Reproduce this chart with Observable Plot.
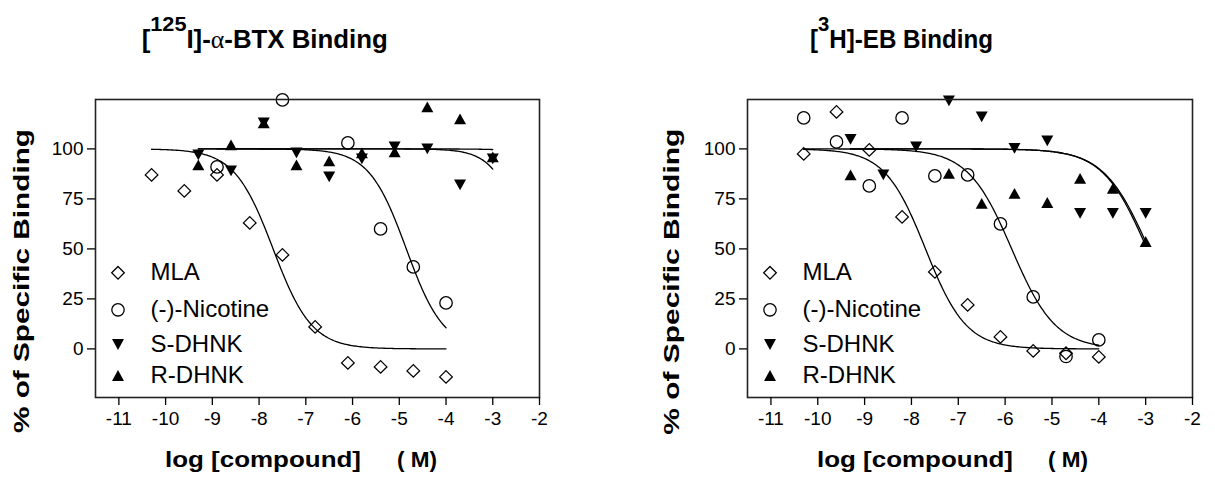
<!DOCTYPE html>
<html>
<head>
<meta charset="utf-8">
<script src="https://cdn.jsdelivr.net/npm/d3@7"></script>
<script src="https://cdn.jsdelivr.net/npm/@observablehq/plot@0.6"></script>
<style>
  html, body { margin: 0; padding: 0; background: #fff; }
  #wrap { position: relative; width: 1215px; height: 479px; overflow: hidden; background: #fff;
          font-family: "Liberation Sans", Arial, sans-serif; }
  #wrap svg.panel { position: absolute; top: 0; }
  #overlay { position: absolute; left: 0; top: 0; pointer-events: none; }
</style>
</head>
<body>
<div id="wrap"></div>
<script>
// ---------------- data ----------------
const compounds = ["MLA", "(-)-Nicotine", "S-DHNK", "R-DHNK"];
const xTicks = [-11, -10, -9, -8, -7, -6, -5, -4, -3, -2];
const yTicks = [0, 25, 50, 75, 100];
const xLabelMain = "log [compound]";
const xLabelUnit = "( M)";
const yLabel = "% of Specific Binding";

// Panel 1: [125I]-alpha-BTX binding
const btxMLA_x = [-10.3, -9.6, -8.9, -8.2, -7.5, -6.8, -6.1, -5.4, -4.7, -4.0];
const btxMLA_y = [87, 79, 87, 63, 47, 11, -7, -9, -11, -14];
const btxNic_x = [-8.9, -7.5, -6.1, -5.4, -4.7, -4.0];
const btxNic_y = [91, 124.5, 103, 60, 41, 23];
const btxS_x = [-9.3, -8.6, -7.9, -7.2, -6.5, -5.8, -5.1, -4.4, -3.7, -3.0];
const btxS_y = [97, 89, 113, 98, 86, 95, 101, 100, 82, 95];
const btxR_x = [-9.3, -8.6, -7.9, -7.2, -6.5, -5.8, -5.1, -4.4, -3.7, -3.0];
const btxR_y = [92, 102, 113, 92, 94, 98, 98.5, 121, 115, 96];
// fitted one-site curves (MLA, Nicotine, S-DHNK, R-DHNK)
const btxLogIC50 = [-7.7, -4.85, -2.27, -0.5];
const btxHill = [1.05, 1.09, 1.3, 1.0];
const btxFitFrom = [-10.3, -8.9, -9.3, -9.3];
const btxFitTo = [-4.0, -4.0, -3.0, -3.0];

// Panel 2: [3H]-EB binding
const ebMLA_x = [-10.3, -9.6, -8.9, -8.2, -7.5, -6.8, -6.1, -5.4, -4.7, -4.0];
const ebMLA_y = [97.5, 118.5, 99.5, 66, 38.5, 22, 6, -1, -2.2, -4];
const ebNic_x = [-10.3, -9.6, -8.9, -8.2, -7.5, -6.8, -6.1, -5.4, -4.7, -4.0];
const ebNic_y = [115.5, 103.5, 81.5, 115.5, 86.5, 87, 62.5, 26, -3.8, 4.5];
const ebS_x = [-9.3, -8.6, -7.9, -7.2, -6.5, -5.8, -5.1, -4.4, -3.7, -3.0];
const ebS_y = [104.8, 87, 101, 124, 116, 100.3, 104, 67.8, 67.8, 67.8];
const ebR_x = [-9.3, -7.2, -6.5, -5.8, -5.1, -4.4, -3.7, -3.0];
const ebR_y = [87, 87.8, 72.8, 77.8, 73.2, 85.3, 80.3, 53.7];
const ebLogIC50 = [-7.7, -5.86, -2.93, -2.97];
const ebHill = [1.0, 0.93, 0.9, 0.92];
const ebFitFrom = [-10.3, -10.3, -9.3, -9.3];
const ebFitTo = [-4.0, -4.0, -3.0, -3.0];

// ---------------- helpers ----------------
const H = 479;
const xDomain = [-11.5, -2];
const yDomain = [-24.3, 124.7];

// four-parameter logistic fit (top 100, bottom 0) evaluated along the fitted range
function fitCurve(logIC50, hill, from, to) {
  const n = 200, pts = [];
  for (let i = 0; i <= n; i++) {
    const x = from + (to - from) * i / n;
    pts.push({x, y: 100 / (1 + Math.pow(10, (x - logIC50) * hill))});
  }
  return pts;
}

const symDiamond = {draw(c, size) { const r = Math.sqrt(size / Math.PI);
  c.moveTo(0, -r); c.lineTo(r, 0); c.lineTo(0, r); c.lineTo(-r, 0); c.closePath(); }};
const symDown = {draw(c, size) { const r = Math.sqrt(size / Math.PI), h = r * 0.9;
  c.moveTo(-r, -h); c.lineTo(r, -h); c.lineTo(0, h); c.closePath(); }};
const symUp = {draw(c, size) { const r = Math.sqrt(size / Math.PI), h = r * 0.9;
  c.moveTo(-r, h); c.lineTo(r, h); c.lineTo(0, -h); c.closePath(); }};

const styles = [
  {symbol: symDiamond, r: 6.3, fill: "none", stroke: "#000", strokeWidth: 1.3},
  {symbol: "circle", r: 6.2, fill: "none", stroke: "#000", strokeWidth: 1.3},
  {symbol: symDown, r: 6, fill: "#000", stroke: "none"},
  {symbol: symUp, r: 6, fill: "#000", stroke: "none"}
];
const legendDy = [173.3, 210.3, 245, 276];

function panel({xs, ys, ic50, hill, from, to, width, marginLeft, marginRight}) {
  const marks = [];
  for (let i = 0; i < 4; i++) {
    marks.push(Plot.line(fitCurve(ic50[i], hill[i], from[i], to[i]),
      {x: "x", y: "y", stroke: "#000", strokeWidth: 1.3}));
  }
  for (let i = 0; i < 4; i++) {
    const data = xs[i].map((x, j) => ({x, y: ys[i][j]}));
    marks.push(Plot.dot(data, {x: "x", y: "y", ...styles[i]}));
  }
  marks.push(Plot.frame({stroke: "#222", strokeWidth: 1.6}));
  marks.push(Plot.axisX({ticks: xTicks, tickSize: 8, tickPadding: 6, tickFormat: d => String(d),
    fontSize: 19, label: null, strokeWidth: 1.3}));
  marks.push(Plot.axisY({ticks: yTicks, tickSize: 8, tickPadding: 4, tickFormat: d => String(d),
    fontSize: 19, label: null, strokeWidth: 1.3}));
  compounds.forEach((name, i) => {
    marks.push(Plot.dot([name], {frameAnchor: "top-left", dx: 22.5, dy: legendDy[i], ...styles[i]}));
    marks.push(Plot.text([name], {frameAnchor: "top-left", dx: 55, dy: legendDy[i], text: d => d,
      textAnchor: "start", lineAnchor: "middle", fontSize: 24, fill: "#000"}));
  });
  const svg = Plot.plot({
    width, height: H, marginLeft, marginRight, marginTop: 99, marginBottom: H - 397,
    x: {domain: xDomain}, y: {domain: yDomain},
    style: {fontFamily: "'Liberation Sans', Arial, sans-serif", fontSize: "19px", color: "#000",
            background: "transparent", overflow: "visible"},
    marks
  });
  svg.classList.add("panel");
  return svg;
}

const wrap = document.getElementById("wrap");
const left = panel({
  xs: [btxMLA_x, btxNic_x, btxS_x, btxR_x], ys: [btxMLA_y, btxNic_y, btxS_y, btxR_y],
  ic50: btxLogIC50, hill: btxHill, from: btxFitFrom, to: btxFitTo,
  width: 607, marginLeft: 95, marginRight: 68
});
left.style.left = "0px";
const right = panel({
  xs: [ebMLA_x, ebNic_x, ebS_x, ebR_x], ys: [ebMLA_y, ebNic_y, ebS_y, ebR_y],
  ic50: ebLogIC50, hill: ebHill, from: ebFitFrom, to: ebFitTo,
  width: 608, marginLeft: 140, marginRight: 23
});
right.style.left = "607px";
wrap.appendChild(left);
wrap.appendChild(right);

// ---------------- titles & axis labels ----------------
const ov = document.createElementNS("http://www.w3.org/2000/svg", "svg");
ov.setAttribute("id", "overlay");
ov.setAttribute("width", 1215);
ov.setAttribute("height", 479);
ov.setAttribute("font-family", "'Liberation Sans', Arial, sans-serif");
ov.innerHTML = `
  <text x="141.7" y="48" font-size="25" font-weight="bold" textLength="246" lengthAdjust="spacingAndGlyphs">[<tspan font-size="21" dy="-17">125</tspan><tspan dy="17">I]-</tspan><tspan font-family="'Liberation Serif', serif" font-weight="normal">&#945;</tspan>-BTX Binding</text>
  <text x="810" y="48" font-size="25" font-weight="bold" textLength="183" lengthAdjust="spacingAndGlyphs">[<tspan font-size="21" dy="-17">3</tspan><tspan dy="17">H]-EB Binding</tspan></text>
  <text transform="translate(29,281) rotate(-90)" text-anchor="middle" font-size="22" font-weight="bold" textLength="304" lengthAdjust="spacingAndGlyphs">${yLabel}</text>
  <text transform="translate(679,281.7) rotate(-90)" text-anchor="middle" font-size="22" font-weight="bold" textLength="306" lengthAdjust="spacingAndGlyphs">${yLabel}</text>
  <text x="165" y="466.7" font-size="22" font-weight="bold" textLength="196" lengthAdjust="spacingAndGlyphs">${xLabelMain}</text>
  <text x="397" y="466.7" font-size="22" font-weight="bold" textLength="40" lengthAdjust="spacingAndGlyphs">${xLabelUnit}</text>
  <text x="817" y="466.7" font-size="22" font-weight="bold" textLength="196" lengthAdjust="spacingAndGlyphs">${xLabelMain}</text>
  <text x="1048" y="466.7" font-size="22" font-weight="bold" textLength="40" lengthAdjust="spacingAndGlyphs">${xLabelUnit}</text>
`;
wrap.appendChild(ov);
</script>
</body>
</html>
